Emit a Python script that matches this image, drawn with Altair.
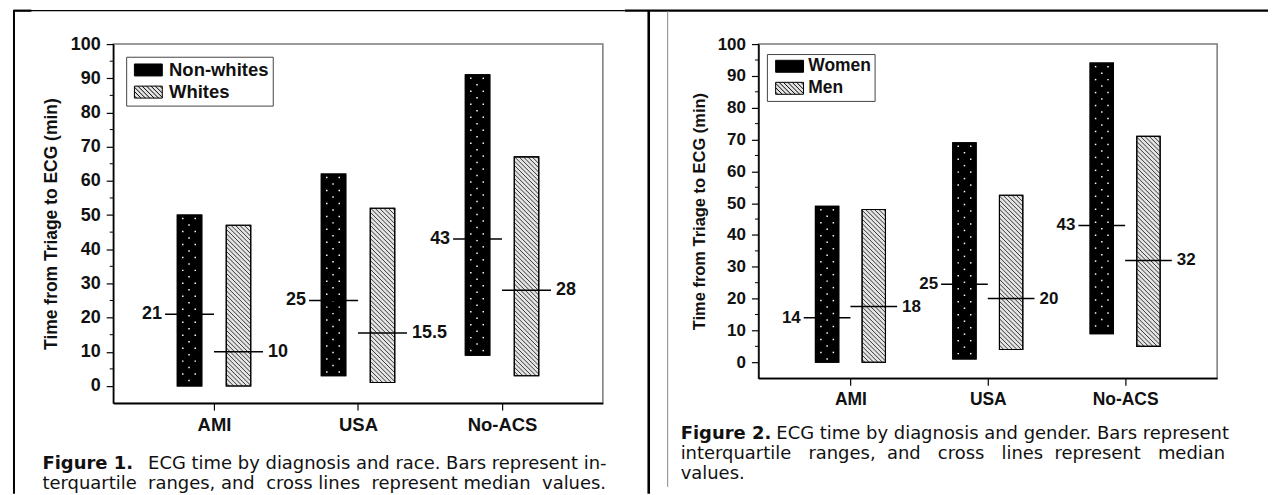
import json
import altair as alt
import pandas as pd

# ------------------------------------------------------------------ data
diagnoses = ["AMI", "USA", "No-ACS"]

fig1_groups = ["Non-whites", "Whites"]
fig1_nonwhites_q1 = [0, 3, 9]
fig1_nonwhites_q3 = [50, 62, 91]
fig1_nonwhites_median = [21, 25, 43]
fig1_nonwhites_label = ["21", "25", "43"]
fig1_whites_q1 = [0, 1, 3]
fig1_whites_q3 = [47, 52, 67]
fig1_whites_median = [10, 15.5, 28]
fig1_whites_label = ["10", "15.5", "28"]

fig2_groups = ["Women", "Men"]
fig2_women_q1 = [0, 1, 9]
fig2_women_q3 = [49, 69, 94]
fig2_women_median = [14, 24.5, 43]
fig2_women_label = ["14", "25", "43"]
fig2_men_q1 = [0, 4, 5]
fig2_men_q3 = [48, 52.5, 71]
fig2_men_median = [17.5, 20, 32]
fig2_men_label = ["18", "20", "32"]

y_major = list(range(0, 101, 10))
y_minor = list(range(5, 100, 10))
y_title = "Time from Triage to ECG (min)"

NB = "\u00a0"
caption1_bold = "Figure 1."
caption1_text = ["ECG time by diagnosis and race. Bars represent in-",
                 f"terquartile{NB} ranges, and{NB} cross lines{NB} represent median{NB} values."]
caption2_bold = "Figure 2."
caption2_text = ["ECG time by diagnosis and gender. Bars represent",
                 f"interquartile{NB}{NB} ranges,{NB} and{NB}{NB} cross{NB}{NB} lines{NB} represent{NB}{NB} median",
                 "values."]

# ------------------------------------------------------------------ layout / style
Y_DOMAIN = [-5, 100]
OFFSET = 0.17
BAR_W = 0.17
HALF_LINE = 0.17
FONT = "Liberation Sans"
CAP_FONT = "DejaVu Sans"
CAP_SIZE = 18
INK = "#111111"
HATCH_BG = "#e4e4e4"


def bar_table(groups, series):
    rows = []
    for gi, (q1, q3, med, lab) in enumerate(series):
        for di, d in enumerate(diagnoses):
            c = di + 1 + (-OFFSET if gi == 0 else OFFSET)
            rows.append(dict(series=groups[gi], gi=gi, diag=d,
                             x0=c - BAR_W / 2, x1=c + BAR_W / 2,
                             lo=q1[di], hi=q3[di], med=med[di], lab=lab[di],
                             m0=c - HALF_LINE, m1=c + HALF_LINE))
    return pd.DataFrame(rows)


def hatch_table(df, sx, sy, step=4.4):
    out = []
    for _, r in df[df.gi == 1].iterrows():
        wp = (r.x1 - r.x0) * sx
        hp = (r.hi - r.lo) * sy
        c = -wp + step / 2
        while c < hp:
            ua = max(0.0, -c)
            ub = min(wp, hp - c)
            if ub - ua > 0.3:
                out.append(dict(xa=r.x0 + ua / sx, ya=r.hi - (ua + c) / sy,
                                xb=r.x0 + ub / sx, yb=r.hi - (ub + c) / sy))
            c += step
    return pd.DataFrame(out)


def dot_table(df, sx, sy, dy=6.5, dx=12.5):
    out = []
    for _, r in df[df.gi == 0].iterrows():
        wp = (r.x1 - r.x0) * sx
        hp = (r.hi - r.lo) * sy
        v, row = 3.5, 0
        while v < hp - 2:
            u = 5.5 if row % 2 == 0 else 5.5 + dx / 2
            while u < wp - 2:
                out.append(dict(x=r.x0 + u / sx, y=r.hi - v / sy))
                u += dx
            v += dy
            row += 1
    return pd.DataFrame(out)


def legend_paths():
    hw, hh = 2.33, 1.0
    rect = f"M{-hw},{-hh}H{hw}V{hh}H{-hw}Z"
    hatch = rect
    step = 0.733
    c = -hw - hh + step / 2
    while c < hw + hh:
        xa = max(-hw, c - hh)
        xb = min(hw, c + hh)
        if xb - xa > 0.05:
            hatch += f"M{xa:.3f},{xa - c:.3f}L{xb:.3f},{xb - c:.3f}"
        c += step
    return rect, hatch


ONE = pd.DataFrame({"k": [0]})


def seg(x, x2, y, y2, color, width):
    return alt.Chart(ONE).mark_rule(color=color, strokeWidth=width).encode(
        x=alt.value(x), x2=alt.value(x2), y=alt.value(y), y2=alt.value(y2))


def txt(x, y, text, font, size, weight="normal", align="left"):
    return alt.Chart(ONE).mark_text(
        text=text, font=font, fontSize=size, fontWeight=weight, align=align,
        baseline="middle", color=INK).encode(x=alt.value(x), y=alt.value(y))


def panel(groups, series, W, H, xdom, fs, leg, captions, decor):
    df = bar_table(groups, series)
    sx = W / (xdom[1] - xdom[0])
    sy = H / (Y_DOMAIN[1] - Y_DOMAIN[0])
    hatch = hatch_table(df, sx, sy)
    dots = dot_table(df, sx, sy)
    xs = alt.Scale(domain=xdom, nice=False, zero=False)
    ys = alt.Scale(domain=Y_DOMAIN, nice=False, zero=False)
    label_expr = f"{json.dumps(diagnoses)}[round(datum.value) - 1]"
    xaxis = alt.Axis(values=[1, 2, 3], labelExpr=label_expr, title=None, grid=False,
                     tickSize=7, tickWidth=1.2, tickColor="black", domainColor="black",
                     domainWidth=1.6, labelFont=FONT, labelFontWeight="bold",
                     labelFontSize=fs + 0.5, labelColor=INK, labelPadding=5,
                     labelOverlap=False)
    yaxis = alt.Axis(values=y_major, title=y_title, grid=False, tickSize=7, tickWidth=1.2,
                     tickColor="black", domainColor="black", domainWidth=1.6,
                     labelFont=FONT, labelFontWeight="bold", labelFontSize=fs,
                     labelColor=INK, labelPadding=6, labelOverlap=False,
                     labelFlush=False, labelBound=False, titleFont=FONT,
                     titleFontWeight="bold", titleFontSize=fs - 0.5, titleColor=INK,
                     titlePadding=10)

    def X(f):
        return alt.X(f, scale=xs, axis=xaxis, title=None)

    def Y(f):
        return alt.Y(f, scale=ys, axis=yaxis, title=y_title)

    base = alt.Chart(df)
    bars = base.mark_rect(stroke="black", strokeWidth=1.1).encode(
        x=X("x0:Q"), x2="x1:Q", y=Y("lo:Q"), y2="hi:Q",
        fill=alt.condition(alt.datum.gi == 0, alt.value("black"), alt.value(HATCH_BG)),
    )
    hatch_l = alt.Chart(hatch).mark_rule(color="#222222", strokeWidth=0.9).encode(
        x=X("xa:Q"), x2="xb:Q", y=Y("ya:Q"), y2="yb:Q")
    dots_l = alt.Chart(dots).mark_square(size=2.2, color="white", opacity=1).encode(
        x=X("x:Q"), y=Y("y:Q"))
    outline = base.mark_rect(fillOpacity=0, stroke="black", strokeWidth=1.1).encode(
        x=X("x0:Q"), x2="x1:Q", y=Y("lo:Q"), y2="hi:Q")
    minor = alt.Chart(pd.DataFrame({"v": y_minor})).mark_rule(
        color="black", strokeWidth=1).encode(
        y=Y("v:Q"), x=alt.value(-3.5), x2=alt.value(0))
    med = base.mark_rule(color="black", strokeWidth=1.5).encode(
        x=X("m0:Q"), x2="m1:Q", y=Y("med:Q"))
    lab_left = base.transform_filter(alt.datum.gi == 0).mark_text(
        align="right", baseline="middle", dx=-3, font=FONT, fontWeight="bold",
        fontSize=fs, color=INK).encode(x=X("m0:Q"), y=Y("med:Q"), text="lab:N")
    lab_right = base.transform_filter(alt.datum.gi == 1).mark_text(
        align="left", baseline="middle", dx=5, font=FONT, fontWeight="bold",
        fontSize=fs, color=INK).encode(x=X("m1:Q"), y=Y("med:Q"), text="lab:N")

    rect_path, hatch_path = legend_paths()
    legend = alt.Legend(title=None, orient="none", legendX=leg[0], legendY=leg[1],
                        direction="vertical", fillColor="white", strokeColor="#444444",
                        padding=leg[3], symbolSize=144, symbolOffset=leg[4],
                        labelOffset=leg[5], symbolStrokeWidth=1, symbolOpacity=1,
                        labelFont=FONT, labelFontWeight="bold", labelFontSize=fs + 0.5,
                        labelColor=INK, rowPadding=leg[2], labelLimit=300)
    key = base.transform_filter("datum.lo < -1000").mark_point(
        filled=True, opacity=1, stroke="black", strokeWidth=1).encode(
        x=X("x0:Q"), y=Y("lo:Q"),
        fill=alt.Fill("series:N", scale=alt.Scale(domain=groups, range=["black", HATCH_BG]),
                      legend=legend),
        shape=alt.Shape("series:N", scale=alt.Scale(domain=groups,
                                                    range=[rect_path, hatch_path]),
                        legend=legend),
    )
    layers = [bars, hatch_l, dots_l, outline, minor, med, lab_left, lab_right, key]
    layers += captions + decor
    return alt.layer(*layers).properties(width=W, height=H)


# ---------------- panel 1 (plot origin at page 112,44)
W1, H1 = 491, 360
cap1 = [txt(-71, 421, caption1_bold, CAP_FONT, CAP_SIZE, "bold"),
        txt(35, 421, caption1_text[0], CAP_FONT, CAP_SIZE),
        txt(-71, 441, caption1_text[1], CAP_FONT, CAP_SIZE)]
decor1 = [seg(-99.5, -99.5, -34, 451, "black", 2),
          seg(-100, 513, -33.5, -33.5, "black", 1.2),
          seg(-100, -82, -33.5, -33.5, "black", 2.2),
          seg(513, 1158, -33.5, -33.5, "black", 2.2),
          seg(537, 537, -34, 451, "black", 2.6)]
p1 = panel(fig1_groups,
           [(fig1_nonwhites_q1, fig1_nonwhites_q3, fig1_nonwhites_median, fig1_nonwhites_label),
            (fig1_whites_q1, fig1_whites_q3, fig1_whites_median, fig1_whites_label)],
           W1, H1, [0.3, 3.7], 18, (13, 12.7, 3.2, 4, 9, 11.5), cap1, decor1)

# ---------------- panel 2 (plot origin at page 759,44)
W2, H2 = 460, 335
cap2 = [txt(-78, 391, caption2_bold, CAP_FONT, CAP_SIZE, "bold"),
        txt(18, 391, caption2_text[0], CAP_FONT, CAP_SIZE),
        txt(-78, 411, caption2_text[1], CAP_FONT, CAP_SIZE),
        txt(-78, 431, caption2_text[2], CAP_FONT, CAP_SIZE)]
decor2 = [seg(-91, -91, -33, 444, "#888888", 1)]
p2 = panel(fig2_groups,
           [(fig2_women_q1, fig2_women_q3, fig2_women_median, fig2_women_label),
            (fig2_men_q1, fig2_men_q3, fig2_men_median, fig2_men_label)],
           W2, H2, [0.33, 3.67], 17, (8.5, 10, 3.1, 3.5, 10.5, 10), cap2, decor2)

chart = alt.hconcat(p1, p2, spacing=156, bounds="flush").resolve_scale(
    x="independent", y="independent", fill="independent", shape="independent"
).resolve_legend(fill="independent", shape="independent").properties(
    padding={"left": 3.5, "top": -1.5, "right": 0, "bottom": 0},
    background="white",
).configure_view(stroke="#7a7a7a", strokeWidth=1.5)

chart.save("out.html", embed_options={"renderer": "svg", "actions": False})
